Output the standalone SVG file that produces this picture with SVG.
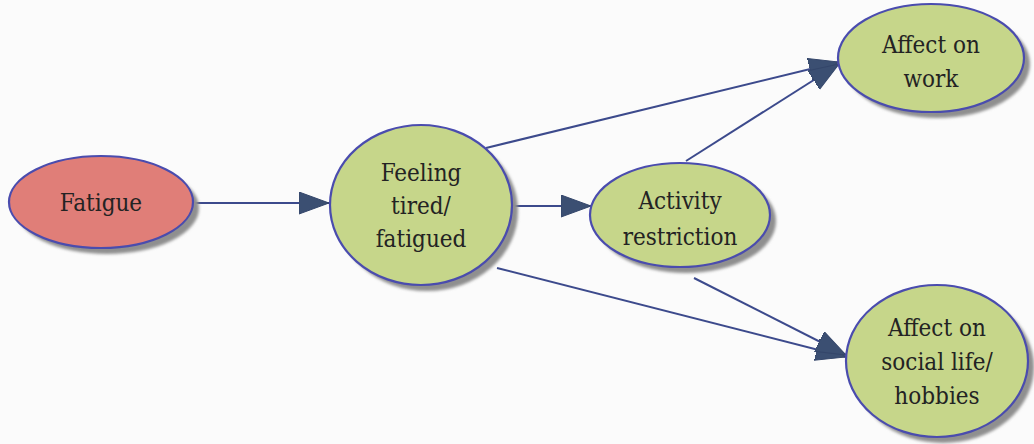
<svg xmlns="http://www.w3.org/2000/svg" width="1034" height="444" viewBox="0 0 1034 444">
  <style>
    .shadow { fill: #8f8f8f; filter: url(#soft); }
    .node { stroke: #4a4cae; stroke-width: 2.2; }
    .red { fill: #e07e78; }
    .green { fill: #c6d68a; }
    .label { font-family: "DejaVu Serif Condensed", "DejaVu Serif", "Liberation Serif", serif; font-size: 24px; fill: #232323; text-anchor: middle; }
    .edge { stroke: #3c4a8c; stroke-width: 2; fill: none; marker-end: url(#arrow); }
  </style>
  <defs>
    <filter id="soft" x="-20%" y="-20%" width="140%" height="140%">
      <feGaussianBlur stdDeviation="1.5"/>
    </filter>
    <marker id="arrow" markerUnits="userSpaceOnUse" markerWidth="32" markerHeight="24" refX="30" refY="11" orient="auto">
      <path d="M0,0 L30,11 L0,22 Z" fill="#3b4f72" stroke="#34466a" stroke-width="1"/>
    </marker>
  </defs>

  <rect width="1034" height="444" fill="#fbfbfb"/>

  <!-- connectors -->
  <g id="connectors">
    <line class="edge" x1="195" y1="203" x2="329" y2="203"/>
    <line class="edge" x1="512" y1="206" x2="591" y2="206"/>
    <line class="edge" x1="486" y1="148" x2="839" y2="62"/>
    <line class="edge" x1="686" y1="161" x2="839" y2="64"/>
    <line class="edge" x1="497" y1="268" x2="846" y2="357"/>
    <line class="edge" x1="694" y1="278" x2="846" y2="355"/>
  </g>

  <!-- nodes -->
  <g id="fatigue">
    <ellipse class="shadow" cx="107" cy="208" rx="92" ry="46"/>
    <ellipse class="node red" cx="101" cy="202" rx="92" ry="46"/>
    <text class="label" x="101" y="211">Fatigue</text>
  </g>

  <g id="feeling-tired">
    <ellipse class="shadow" cx="427" cy="211" rx="91" ry="80"/>
    <ellipse class="node green" cx="421" cy="205" rx="91" ry="80"/>
    <text class="label" x="421" y="181">Feeling</text>
    <text class="label" x="421" y="214">tired/</text>
    <text class="label" x="421" y="247">fatigued</text>
  </g>

  <g id="activity-restriction">
    <ellipse class="shadow" cx="686" cy="221" rx="90" ry="52"/>
    <ellipse class="node green" cx="680" cy="215" rx="90" ry="52"/>
    <text class="label" x="680" y="209">Activity</text>
    <text class="label" x="680" y="245">restriction</text>
  </g>

  <g id="affect-work">
    <ellipse class="shadow" cx="937" cy="64" rx="93" ry="54"/>
    <ellipse class="node green" cx="931" cy="58" rx="93" ry="54"/>
    <text class="label" x="931" y="53">Affect on</text>
    <text class="label" x="931" y="87">work</text>
  </g>

  <g id="affect-social">
    <ellipse class="shadow" cx="943" cy="367" rx="91" ry="76"/>
    <ellipse class="node green" cx="937" cy="361" rx="91" ry="76"/>
    <text class="label" x="937" y="336">Affect on</text>
    <text class="label" x="937" y="370">social life/</text>
    <text class="label" x="937" y="404">hobbies</text>
  </g>
</svg>
